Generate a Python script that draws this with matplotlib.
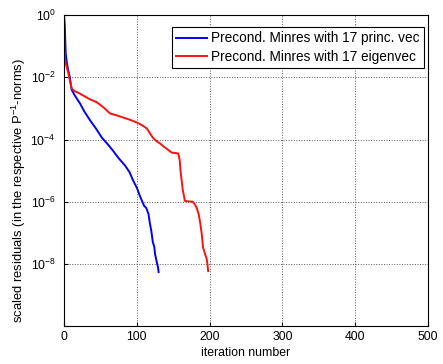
import matplotlib
matplotlib.use("Agg")
import matplotlib.pyplot as plt
import numpy as np

plt.rcParams['font.family'] = ['Liberation Sans', 'DejaVu Sans']
plt.rcParams['mathtext.fontset'] = 'custom'
plt.rcParams['mathtext.rm'] = 'Liberation Sans'
plt.rcParams['mathtext.it'] = 'Liberation Sans'

# iteration number vs log10 of scaled residual
it_princ = [0, 1, 1.4, 2.3, 4, 6, 8, 10.5, 14, 18, 22, 28, 36, 44, 52, 60, 67, 75, 84, 90, 95,
            100, 104, 107, 110, 113, 116, 118, 120, 122, 124, 125, 127, 129, 130]
res_princ = [0, -0.3, -0.58, -1.23, -1.55, -1.8, -2.0, -2.4, -2.55, -2.7, -2.84, -3.1, -3.39,
             -3.65, -3.94, -4.15, -4.35, -4.6, -4.84, -5.05, -5.32, -5.55, -5.8, -5.97, -6.13,
             -6.2, -6.39, -6.7, -6.95, -7.3, -7.45, -7.68, -7.9, -8.1, -8.26]

it_eig = [0, 0.5, 2, 4, 5.7, 8, 10.5, 15, 20, 26, 35, 45, 55, 63, 72, 81, 90, 100, 108, 114,
          118, 122, 127, 132, 140, 148, 152, 157, 159, 160, 161.6, 163, 166, 168, 172, 177,
          180, 182, 185, 187, 189, 191, 194, 196, 197, 198]
res_eig = [0, -1.23, -1.5, -1.7, -1.84, -2.1, -2.36, -2.45, -2.5, -2.58, -2.7, -2.8, -2.98,
           -3.16, -3.22, -3.29, -3.36, -3.45, -3.55, -3.65, -3.8, -3.94, -4.05, -4.13, -4.28,
           -4.42, -4.43, -4.45, -4.68, -5.0, -5.32, -5.6, -5.97, -5.98, -5.99, -6.0, -6.1,
           -6.18, -6.4, -6.67, -7.0, -7.47, -7.7, -7.84, -8.0, -8.23]

fig = plt.figure(figsize=(4.43, 3.64), dpi=100)
ax = fig.add_axes([0.1445, 0.104, 0.8217, 0.8544])

ax.semilogy(it_princ, 10.0 ** np.array(res_princ), color='#0000ff', lw=1.4,
            label='Precond. Minres with 17 princ. vec')
ax.semilogy(it_eig, 10.0 ** np.array(res_eig), color='#ff1010', lw=1.4,
            label='Precond. Minres with 17 eigenvec')

ax.set_xlim(0, 500)
ax.set_ylim(1e-10, 1)
ax.set_xticks([0, 100, 200, 300, 400, 500])
ax.set_yticks([1e0, 1e-2, 1e-4, 1e-6, 1e-8, 1e-10])
ax.set_yticklabels(['$10^{0}$', '$10^{-2}$', '$10^{-4}$', '$10^{-6}$', '$10^{-8}$', ''])
ax.yaxis.set_minor_locator(matplotlib.ticker.NullLocator())
ax.tick_params(direction='in', labelsize=8.8, length=3)
ax.tick_params(axis='y', pad=6)
ax.grid(True, linestyle=':', color='#555555', lw=0.7)

ax.set_xlabel('iteration number', fontsize=8.8, labelpad=3)
ax.set_ylabel('scaled residuals (in the respective P$^{-1}$-norms)', fontsize=9.4)
ax.yaxis.set_label_coords(-0.099, 0.437)

leg = ax.legend(loc='upper right', bbox_to_anchor=(0.989, 0.961), borderaxespad=0,
                fontsize=9.8, fancybox=False, framealpha=1, edgecolor='black',
                handlelength=2.3, handletextpad=0.3, labelspacing=0.35, borderpad=0.3)
leg.get_frame().set_linewidth(0.8)

fig.savefig('out.png', dpi=100)
